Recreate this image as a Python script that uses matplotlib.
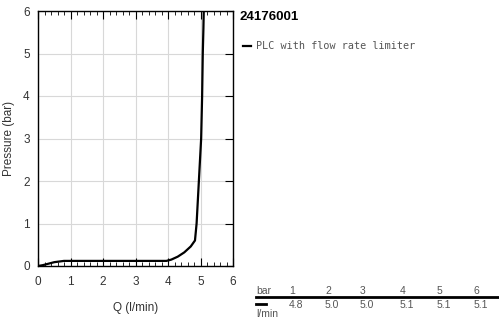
import matplotlib
matplotlib.use("Agg")
import matplotlib.pyplot as plt
from matplotlib.ticker import MultipleLocator

# curve
q = [0.0, 0.15, 0.3, 0.5, 0.8, 1.0, 2.0, 3.0, 3.95, 4.1, 4.3, 4.5, 4.7, 4.83, 4.88, 4.95, 5.02, 5.05, 5.07, 5.09, 5.1]
p = [0.0, 0.02, 0.05, 0.09, 0.12, 0.12, 0.12, 0.12, 0.12, 0.15, 0.22, 0.32, 0.46, 0.6, 1.0, 2.0, 3.0, 4.0, 5.0, 5.6, 6.0]

title = "24176001"
series_name = "PLC with flow rate limiter"
bar_vals = ["1", "2", "3", "4", "5", "6"]
lpm_vals = ["4.8", "5.0", "5.0", "5.1", "5.1", "5.1"]

plt.rcParams['font.family'] = ['Liberation Sans', 'DejaVu Sans']

W, H = 499, 322
fig = plt.figure(figsize=(W / 100, H / 100), dpi=100)
ax = fig.add_axes([38 / W, (H - 266) / H, 195 / W, 255 / H])

ax.plot(q, p, color='black', lw=1.6)
ax.set_xlim(0, 6)
ax.set_ylim(0, 6)
ax.xaxis.set_major_locator(MultipleLocator(1))
ax.xaxis.set_minor_locator(MultipleLocator(0.2))
ax.yaxis.set_major_locator(MultipleLocator(1))
ax.grid(True, which='major', color='#d8d8d8', lw=0.8)
ax.set_axisbelow(True)
for s in ax.spines.values():
    s.set_linewidth(1.0)

ax.tick_params(axis='x', which='major', direction='in', length=6, top=True,
               labelsize=8.5, labelcolor='#333333', pad=7)
ax.tick_params(axis='x', which='minor', direction='in', length=3, top=True)
ax.tick_params(axis='y', which='major', direction='in', length=6, left=False, right=True,
               labelsize=8.5, labelcolor='#333333', pad=6)
ax.set_xlabel("Q (l/min)", fontsize=8.5, color='#333333', labelpad=10)
ax.set_ylabel("Pressure (bar)", fontsize=8.5, color='#333333', labelpad=6)

# title + legend
fig.text(240 / W, 1 - 17 / H, title, fontsize=9.5, fontweight='bold', va='center', ha='left')
fig.add_artist(plt.Line2D([243 / W, 251 / W], [1 - 46 / H] * 2, color='black', lw=1.6))
fig.text(256 / W, 1 - 46 / H, series_name, fontsize=7.3, family='DejaVu Sans Mono',
         color='#555555', va='center', ha='left')

# small table at bottom right
col_x = [289, 325, 360, 400, 437, 474]
fig.text(256 / W, 1 - 291 / H, "bar", fontsize=7.5, color='#555555', va='center')
fig.add_artist(plt.Line2D([256 / W, 499 / W], [1 - 297 / H] * 2, color='black', lw=2))
fig.add_artist(plt.Line2D([256 / W, 266 / W], [1 - 304 / H] * 2, color='black', lw=2))
fig.text(256 / W, 1 - 314 / H, "l/min", fontsize=7.5, color='#555555', va='center')
for x, b, v in zip(col_x, bar_vals, lpm_vals):
    fig.text(x / W, 1 - 291 / H, b, fontsize=7.5, color='#555555', va='center')
    fig.text(x / W, 1 - 305 / H, v, fontsize=7.5, color='#555555', va='center')

fig.savefig("out.png", dpi=100)
